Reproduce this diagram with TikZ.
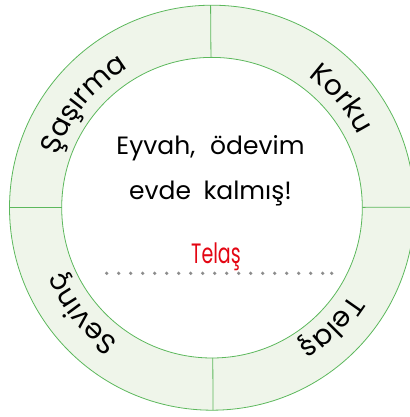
\documentclass[tikz,border=0pt]{standalone}
\usepackage{fontspec}
\setmainfont{Poppins}
\usetikzlibrary{decorations.text,calc}
\definecolor{ringgreen}{HTML}{5CB85C}
\definecolor{ringfill}{HTML}{EFF5EA}
\definecolor{telasred}{HTML}{E30613}
\definecolor{dotgray}{HTML}{8C8C8C}
\tikzset{
  ringline/.style={draw=ringgreen, line width=0.8pt},
  maintext/.style={font=\fontsize{25}{30}\selectfont, text=black, anchor=base, inner sep=0pt},
  answertext/.style={font=\fontsize{28}{32}\selectfont, text=telasred, anchor=base, inner sep=0pt, xscale=0.68},
  dotstyle/.style={fill=dotgray, draw=none},
  ringlabel/.style={decorate, decoration={text along path, text align=center,
     text={|\fontsize{28}{32}\selectfont|#1}}}
}
\begin{document}
\begin{tikzpicture}[x=1pt,y=1pt]
\useasboundingbox (0,0) rectangle (409,417);
\coordinate (c) at (212,209.3);
% ring
\path[fill=ringfill, even odd rule] (c) circle[radius=202.5] (c) circle[radius=150.3];
\draw[ringline] (c) circle[radius=202.5];
\draw[ringline] (c) circle[radius=150.3];
% dividers
\foreach \a/\n in {90.4/top,0.13/right,270.3/bottom,180/left}{
  \coordinate (\n i) at ($(c)+(\a:150.3)$);
  \coordinate (\n o) at ($(c)+(\a:202.5)$);
  \draw[ringline] (\n i) -- (\n o);
}
% curved labels
\path[ringlabel={Şaşırma}] (c) ++(171:163) arc[start angle=171, end angle=111, radius=163];
\path[ringlabel={Korku}] (c) ++(70:163) arc[start angle=70, end angle=10, radius=163];
\path[ringlabel={Telaş}] (c) ++(-15:163) arc[start angle=-15, end angle=-75, radius=163];
\path[ringlabel={Sevinç}] (c) ++(-111:163) arc[start angle=-111, end angle=-171, radius=163];
% center text
\node[maintext] (line1) at (210.5,262) {Eyvah,\hspace{0.6em}ödevim};
\node[maintext] (line2) at (210.5,217) {evde\hspace{0.5em}kalmış!};
\node[answertext] (answer) at (216,153.7) {Telaş};
\foreach \i in {0,...,18}{
  \fill[dotstyle] (106.7+12*\i,143.7) circle[radius=1.8];
}
\fill[dotstyle] (331.7,143.7) circle[radius=1.8];
\end{tikzpicture}
\end{document}
